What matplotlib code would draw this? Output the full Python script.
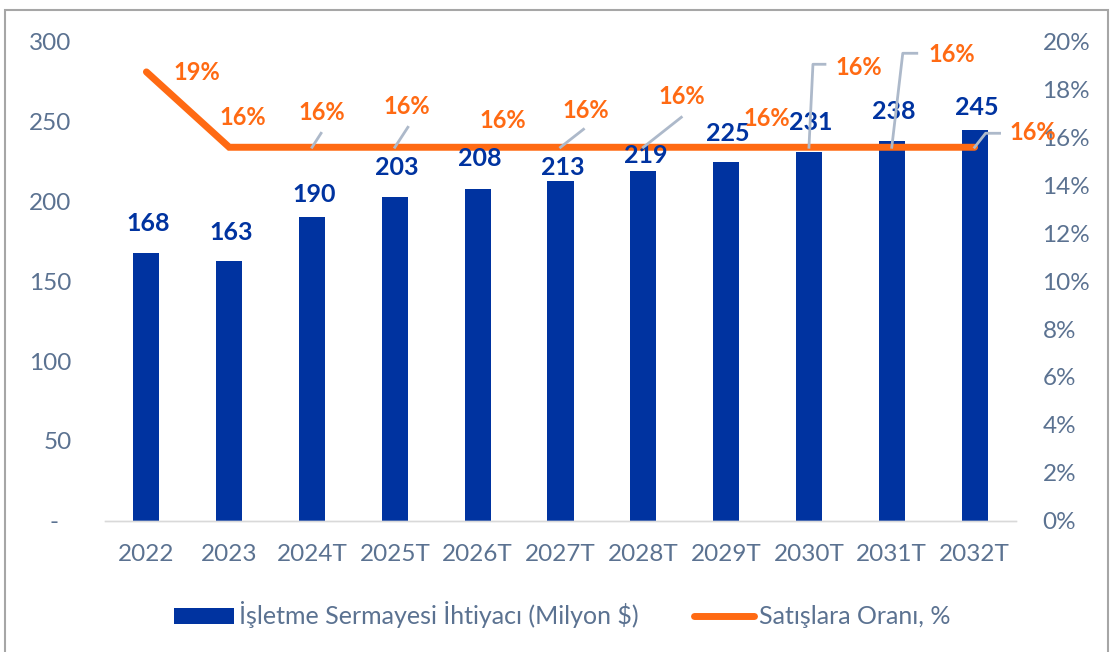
import matplotlib
matplotlib.use('Agg')
import matplotlib.pyplot as plt
from matplotlib.patches import Patch, Rectangle
from matplotlib.lines import Line2D
from matplotlib.transforms import IdentityTransform
from matplotlib.ticker import FuncFormatter, MultipleLocator

# Veri
yillar = ['2022', '2023', '2024T', '2025T', '2026T', '2027T', '2028T',
          '2029T', '2030T', '2031T', '2032T']
sermaye = [168, 163, 190, 203, 208, 213, 219, 225, 231, 238, 245]
oran = [18.75, 15.6, 15.6, 15.6, 15.6, 15.6, 15.6, 15.6, 15.6, 15.6, 15.6]
bar_etiket = 'İşletme Sermayesi İhtiyacı (Milyon $)'
cizgi_etiket = 'Satışlara Oranı, %'

# Renkler
MAVI = '#0033A0'
TURUNCU = '#FF6A13'
GRI_YAZI = '#5B7291'
GRI_CIZGI = '#ADB9CA'

plt.rcParams['font.family'] = ['Lato', 'DejaVu Sans']

W, H = 1117, 652
fig = plt.figure(figsize=(W / 100, H / 100), dpi=100)
fig.subplots_adjust(left=105 / W, right=1016 / W, bottom=1 - 520.5 / H, top=1 - 42 / H)
ax = fig.add_subplot(111)
ax2 = ax.twinx()

x = list(range(len(yillar)))
ax.bar(x, sermaye, width=0.315, color=MAVI, zorder=2)
ax.set_xlim(-0.5, len(yillar) - 0.5)
ax.set_ylim(0, 300)
ax.yaxis.set_major_locator(MultipleLocator(50))
ax.yaxis.set_major_formatter(FuncFormatter(lambda v, p: '-  ' if v == 0 else f'{v:.0f}'))
ax.set_xticks(x)
ax.set_xticklabels(yillar)

ax2.plot(x, oran, color=TURUNCU, lw=5, solid_capstyle='round', solid_joinstyle='miter', zorder=3)
ax2.set_ylim(0, 20)
ax2.yaxis.set_major_locator(MultipleLocator(2))
ax2.yaxis.set_major_formatter(FuncFormatter(lambda v, p: f'{v:.0f}%'))

for a in (ax, ax2):
    for s in ['top', 'left', 'right']:
        a.spines[s].set_visible(False)
    a.spines['bottom'].set_color('#D9D9D9')
    a.spines['bottom'].set_linewidth(1)
    a.tick_params(length=0, labelsize=17.5, colors=GRI_YAZI)
ax.tick_params(axis='y', pad=24)
ax.tick_params(axis='x', pad=17)
ax2.tick_params(axis='y', pad=19)

# Bar etiketleri (piksel olarak yukari kaydirma)
bar_dy = [29, 28, 23, 29, 30, 13, 16, 28, 30, 29, 22]
for i, v in enumerate(sermaye):
    ax2.annotate(f'{v}', xy=(i, v), xycoords=ax.transData,
                 xytext=(2, bar_dy[i]), textcoords='offset pixels',
                 ha='center', va='center', fontsize=18, fontweight='bold',
                 color=MAVI, zorder=5)

# Oran etiketleri ve kilavuz cizgiler (piksel ofsetleri)
oran_dx = [50, 14, 10, 12, 25, 25, 38, 41, 50, 60, 58]
oran_dy = [-1, 30, 35, 41, 27, 37, 51, 29, 80, 93, 15]
kilavuz = {
    2: [(9, 14)],
    3: [(13, 20)],
    5: [(23, 18)],
    6: [(38, 30)],
    8: [(4, 83), (16, 83)],
    9: [(11, 94), (25, 94)],
    10: [(11, 14), (25, 14)],
}
for i, v in enumerate(oran):
    px, py = ax2.transData.transform((i, v))
    if i in kilavuz:
        xs = [px] + [px + d[0] for d in kilavuz[i]]
        ys = [py] + [py + d[1] for d in kilavuz[i]]
        fig.add_artist(Line2D(xs, ys, transform=IdentityTransform(),
                              color=GRI_CIZGI, lw=2, zorder=4))
    ax2.annotate(f'{v:.0f}%', xy=(i, v), xytext=(oran_dx[i], oran_dy[i]),
                 textcoords='offset pixels', ha='center', va='center',
                 fontsize=17, fontweight='bold', color=TURUNCU, zorder=6)

# Lejant
handles = [Patch(facecolor=MAVI, edgecolor='none'),
           Line2D([0], [0], color=TURUNCU, lw=5, solid_capstyle='round')]
fig.legend(handles, [bar_etiket, cizgi_etiket], loc='center',
           bbox_to_anchor=(562 / W, 1 - 615 / H), ncol=2, frameon=False,
           fontsize=18, labelcolor=GRI_YAZI, handlelength=2.4,
           handleheight=0.6, handletextpad=0.2, columnspacing=2.2)

# Cerceve
fig.add_artist(Rectangle((4.5 / W, -0.05), (1108 - 4.5) / W, 1.05 - 10 / H,
                         transform=fig.transFigure, fill=False,
                         edgecolor='#A6A6A6', lw=1.5))

plt.savefig('out.png', dpi=100)
